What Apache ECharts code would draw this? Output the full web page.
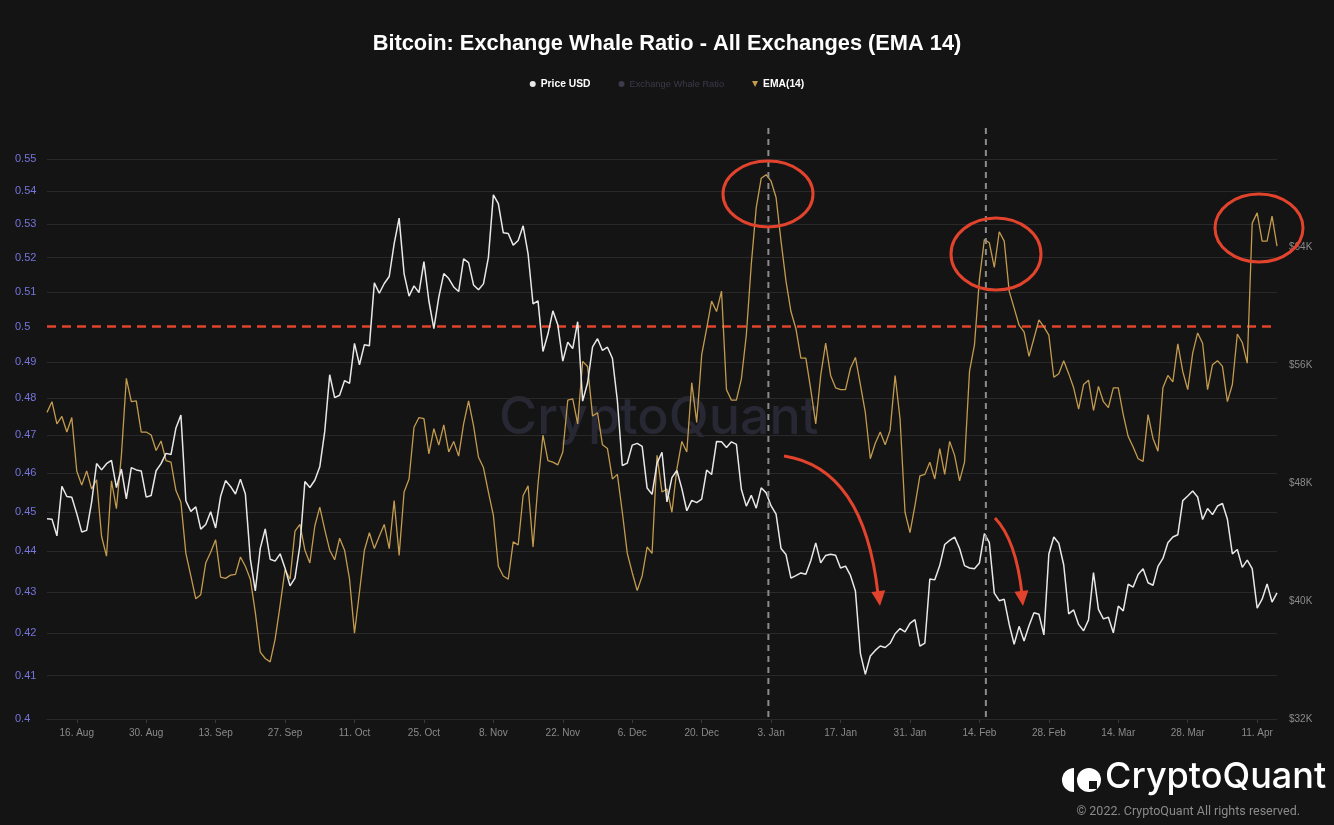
<!DOCTYPE html>
<html><head><meta charset="utf-8">
<script src="https://cdn.jsdelivr.net/npm/echarts@6/dist/echarts.min.js"></script>
<style>html,body{margin:0;padding:0;background:#141414;}#c{width:1334px;height:825px;}</style>
</head><body><div id="c"></div>
<script>
// ---------------- DATA ----------------
const startDate = '2021-08-10';
const priceUSD = [
45593,45561,44429,47793,47096,47047,45937,44695,44801,46717,49339,48905,49321,49546,47707,48960,46943,49058,48903,48830,47054,47167,
48847,49327,50026,49944,51753,52633,46811,46091,46391,44884,45201,46063,44963,47092,48177,47783,47268,48278,47261,42844,40694,43574,44896,42840,42716,43209,42235,41035,41564,43791,
48116,47711,48200,49112,51515,55362,53805,53967,54968,54772,57485,56041,57402,57322,61593,60892,61553,62026,64262,65992,62210,60692,61393,60931,63039,60364,58483,60622,62228,61888,61319,
61004,63227,62970,61453,61126,61527,63327,67567,66972,64995,64949,64155,64470,65467,63557,60162,60369,56943,58120,59698,58731,56289,57570,57138,58960,53570,54816,57249,57807,57006,
57229,56477,53598,49201,49368,50582,50701,50504,47672,47244,49362,50098,46737,48379,48865,47632,46132,46835,46681,46915,48896,48588,50838,50821,50429,50809,50640,47588,46444,47178,46306,
47686,47345,46458,45897,43569,43160,41558,41734,41912,41822,42736,43950,42592,43099,43177,43114,42250,42376,41744,40680,36458,35031,36276,36654,36955,36853,37138,37784,38139,37917,38484,
38743,36952,37155,41501,41441,42412,43841,44118,44339,43565,42407,42244,42198,42587,44576,43961,40538,40030,40122,38431,37075,38287,37297,38332,39214,39106,37710,43194,
44354,43925,42452,39137,39401,38420,37989,38730,41942,39439,38795,38905,37849,39667,39339,41143,40951,41802,42191,41247,41078,42358,42893,43961,44349,44501,46821,47128,47466,47063,45539,
46282,45868,46453,46623,45555,43207,43504,42288,42782,42207,39521,40127,41166,39936,40553
];
const whaleRatioEMA14 = [
0.4762,0.4791,0.4731,0.4751,0.4709,0.4748,0.4606,0.4569,0.4606,0.4559,
0.4583,0.4438,0.4388,0.4580,0.4508,0.4647,0.4855,0.4791,0.4793,0.4709,
0.4709,0.4701,0.4660,0.4685,0.4633,0.4629,0.4555,0.4525,0.4395,0.4339,
0.4283,0.4293,0.4371,0.4398,0.4429,0.4336,0.4333,0.4341,0.4343,0.4386,
0.4363,0.4331,0.4250,0.4155,0.4140,0.4132,0.4186,0.4267,0.4355,0.4331,
0.4451,0.4468,0.4403,0.4371,0.4464,0.4512,0.4455,0.4403,0.4379,0.4433,
0.4403,0.4331,0.4200,0.4299,0.4403,0.4447,0.4407,0.4438,0.4468,0.4407,
0.4529,0.4390,0.4551,0.4585,0.4722,0.4748,0.4745,0.4651,0.4718,0.4674,
0.4728,0.4656,0.4684,0.4645,0.4731,0.4793,0.4726,0.4642,0.4615,0.4551,
0.4491,0.4363,0.4339,0.4331,0.4424,0.4416,0.4542,0.4567,0.4411,0.4572,
0.4701,0.4633,0.4629,0.4622,0.4656,0.4795,0.4799,0.4731,0.4902,0.4888,
0.4752,0.4761,0.4675,0.4665,0.4585,0.4597,0.4499,0.4395,0.4347,0.4303,
0.4339,0.4411,0.4395,0.4647,0.4551,0.4559,0.4499,0.4611,0.4684,0.4656,
0.4843,0.4735,0.4920,0.4994,0.5073,0.5043,0.5102,0.4824,0.4795,0.4795,
0.4853,0.4976,0.5180,0.5350,0.5440,0.5451,0.5431,0.5381,0.5249,0.5131,
0.5043,0.4994,0.4911,0.4911,0.4824,0.4731,0.4863,0.4953,0.4863,0.4829,
0.4824,0.4824,0.4883,0.4913,0.4838,0.4761,0.4638,0.4679,0.4709,0.4675,
0.4714,0.4863,0.4744,0.4499,0.4447,0.4516,0.4593,0.4597,0.4629,0.4585,
0.4665,0.4597,0.4684,0.4647,0.4580,0.4629,0.4874,0.4948,0.5136,0.5254,
0.5244,0.5171,0.5277,0.5249,0.5102,0.5053,0.5004,0.4985,0.4916,0.4967,
0.5019,0.4999,0.4976,0.4858,0.4868,0.4904,0.4868,0.4829,0.4771,0.4838,
0.4850,0.4767,0.4833,0.4791,0.4775,0.4829,0.4829,0.4756,0.4697,0.4669,
0.4638,0.4631,0.4756,0.4692,0.4658,0.4829,0.4863,0.4845,0.4951,0.4874,
0.4824,0.4925,0.4982,0.4953,0.4824,0.4893,0.4904,0.4888,0.4791,0.4838,
0.4979,0.4955,0.4897,0.5303,0.5334,0.5249,0.5249,0.5324,0.5234
];
const ratioTicks = [0.40,0.41,0.42,0.43,0.44,0.45,0.46,0.47,0.48,0.49,0.50,0.51,0.52,0.53,0.54,0.55];
const ratioTickLabels = ['0.4','0.41','0.42','0.43','0.44','0.45','0.46','0.47','0.48','0.49','0.5','0.51','0.52','0.53','0.54','0.55'];
const priceAxis = {min: 32000, max: 70000, step: 8000};
const thresholdRatio = 0.5;
// dashed markers: [date, fraction of a day after it]
const highlightMarkers = [['2022-01-02', 0.45], ['2022-02-15', 0.3]];
const firstLabelDate = '2021-08-16';
const labelStepDays = 14;
const monthNames = ['Jan','Feb','Mar','Apr','May','Jun','Jul','Aug','Sep','Oct','Nov','Dec'];

// ---------------- CATEGORIES ----------------
function buildDates(start, n) {
  const out = [];
  const t0 = Date.parse(start + 'T00:00:00Z');
  for (let i = 0; i < n; i++) {
    out.push(new Date(t0 + i * 86400000).toISOString().slice(0, 10));
  }
  return out;
}
const dates = buildDates(startDate, priceUSD.length);
const firstLabelIdx = dates.indexOf(firstLabelDate);
function fmtDate(d) { const p = d.split('-'); return (+p[2]) + '. ' + monthNames[+p[1] - 1]; }
const showIdx = (i) => i >= firstLabelIdx && (i - firstLabelIdx) % labelStepDays === 0;

// ---------------- CHART ----------------
const FONT = '"Liberation Sans", Arial, sans-serif';
const chart = echarts.init(document.getElementById('c'), null, {renderer: 'canvas'});
const GOLD = '#c39b4f';
const RED = '#e2432c';
const BG = '#141414';

const gridMarkData = ratioTicks.map((v, k) => {
  const item = {yAxis: v, name: ratioTickLabels[k]};
  if (v === thresholdRatio) item.lineStyle = {color: RED, type: [9, 6], width: 2.5};
  return item;
});

chart.setOption({
  backgroundColor: BG,
  animation: false,
  title: {
    text: 'Bitcoin: Exchange Whale Ratio - All Exchanges (EMA 14)',
    left: 'center', top: 28,
    textStyle: {color: '#ffffff', fontSize: 21.8, fontWeight: 'bold', fontFamily: FONT}
  },
  legend: {
    top: 74, left: 'center', itemGap: 28, itemWidth: 6, itemHeight: 6,
    inactiveColor: '#3b3b4b',
    textStyle: {color: '#ffffff', fontSize: 10.3, fontWeight: 'bold', fontFamily: FONT},
    data: [
      {name: 'Price USD', icon: 'circle'},
      {name: 'Exchange Whale Ratio', icon: 'circle', textStyle: {fontWeight: 'normal', fontSize: 9.3}},
      {name: 'EMA(14)', icon: 'path://M0,0L10,0L5,10Z'}
    ],
    selected: {'Exchange Whale Ratio': false}
  },
  grid: {left: 47, right: 57, top: 159, bottom: 106, containLabel: false},
  xAxis: {
    type: 'category', data: dates, boundaryGap: false,
    axisLine: {lineStyle: {color: '#353535'}},
    axisTick: {show: true, interval: (i) => showIdx(i), length: 4, lineStyle: {color: '#3a3a3a'}},
    axisLabel: {interval: (i) => showIdx(i), formatter: fmtDate, color: '#8a8a8a', fontSize: 10, fontFamily: FONT, margin: 9},
    splitLine: {show: false}
  },
  yAxis: [
    {
      type: 'log', logBase: 10, min: ratioTicks[0], max: ratioTicks[ratioTicks.length - 1],
      axisLabel: {show: false}, axisTick: {show: false}, axisLine: {show: false}, splitLine: {show: false}
    },
    {
      type: 'value', position: 'right', min: priceAxis.min, max: priceAxis.max, interval: priceAxis.step,
      axisLine: {show: false}, axisTick: {show: false}, splitLine: {show: false},
      axisLabel: {color: '#8a8a8a', fontSize: 10, fontFamily: FONT, margin: 12, showMaxLabel: false,
        formatter: (v) => '$' + Math.round(v / 1000) + 'K'}
    }
  ],
  series: [
    {
      name: 'Price USD', type: 'line', yAxisIndex: 1, data: priceUSD, showSymbol: false, symbol: 'none',
      color: '#e8e8e8', lineStyle: {width: 1.5, color: '#e8e8e8'}, z: 4
    },
    {
      name: 'Exchange Whale Ratio', type: 'line', yAxisIndex: 0, data: [], symbol: 'none', color: '#8a8aa0'
    },
    {
      name: 'EMA(14)', type: 'line', yAxisIndex: 0, data: whaleRatioEMA14, showSymbol: false, symbol: 'none',
      color: GOLD, lineStyle: {width: 1.3, color: GOLD}, z: 3,
      markLine: {
        silent: true, symbol: ['none', 'none'], z: 1, animation: false,
        lineStyle: {color: '#292929', width: 1, type: 'solid'},
        label: {show: true, position: 'start', distance: 32, align: 'left', color: '#7575dc', fontSize: 11, fontFamily: FONT,
          formatter: (p) => p.name},
        emphasis: {disabled: true},
        data: gridMarkData
      }
    }
  ]
});

// ---------------- ANNOTATIONS ----------------
const G = [];
// watermark
G.push({type: 'text', z: 0, left: 499, top: 392, silent: true,
  style: {text: 'CryptoQuant', fill: '#272834', font: '500 52px Inter, "Noto Sans", sans-serif'}});
// vertical dashed date markers
const plotBottom = chart.convertToPixel({yAxisIndex: 1}, priceAxis.min);
highlightMarkers.forEach((m) => {
  const i = dates.indexOf(m[0]);
  const xa = chart.convertToPixel({xAxisIndex: 0}, dates[i]);
  const xb = chart.convertToPixel({xAxisIndex: 0}, dates[i + 1]);
  const x = xa + (xb - xa) * m[1];
  G.push({type: 'line', z: 10, silent: true,
    shape: {x1: x, y1: 128, x2: x, y2: plotBottom + 3},
    style: {stroke: '#8c8c8c', lineWidth: 2, lineDash: [6, 5]}});
});
// red ellipses
[[768, 194, 45, 33], [996, 254, 45, 36], [1259, 228, 44, 34]].forEach((e) => {
  G.push({type: 'ellipse', z: 11, silent: true, shape: {cx: e[0], cy: e[1], rx: e[2], ry: e[3]},
    style: {fill: 'none', stroke: RED, lineWidth: 3}});
});
// red arrows
function arrow(p0, c, p2, tip) {
  G.push({type: 'bezierCurve', z: 11, silent: true,
    shape: {x1: p0[0], y1: p0[1], cpx1: c[0], cpy1: c[1], x2: p2[0], y2: p2[1]},
    style: {fill: 'none', stroke: RED, lineWidth: 3}});
  const dx = tip[0] - c[0], dy = tip[1] - c[1];
  const L = Math.hypot(dx, dy), ux = dx / L, uy = dy / L;
  const bx = tip[0] - ux * 15, by = tip[1] - uy * 15;
  G.push({type: 'polygon', z: 11, silent: true,
    shape: {points: [[tip[0], tip[1]], [bx - uy * 7, by + ux * 7], [bx + uy * 7, by - ux * 7]]},
    style: {fill: RED}});
}
arrow([784, 456], [864, 468], [878, 594], [880, 606]);
arrow([995, 518], [1016, 540], [1022, 594], [1023, 606]);
// logo bottom-right
G.push({type: 'sector', z: 12, silent: true, shape: {cx: 1074, cy: 780, r: 12, r0: 0, startAngle: Math.PI / 2, endAngle: Math.PI * 3 / 2},
  style: {fill: '#ffffff'}});
G.push({type: 'circle', z: 12, silent: true, shape: {cx: 1089, cy: 780, r: 12}, style: {fill: '#ffffff'}});
G.push({type: 'rect', z: 13, silent: true, shape: {x: 1089, y: 781, width: 8, height: 8}, style: {fill: BG}});
G.push({type: 'text', z: 12, silent: true, left: 1105, top: 759,
  style: {text: 'CryptoQuant', fill: '#ffffff', font: '500 36px Inter, "Noto Sans", sans-serif'}});
G.push({type: 'text', z: 12, silent: true, right: 34, top: 805,
  style: {text: '\u00a9 2022. CryptoQuant All rights reserved.', fill: '#8a8a8a', font: '12.5px Roboto, "Noto Sans", sans-serif'}});
chart.setOption({graphic: G});
</script>
</body></html>
